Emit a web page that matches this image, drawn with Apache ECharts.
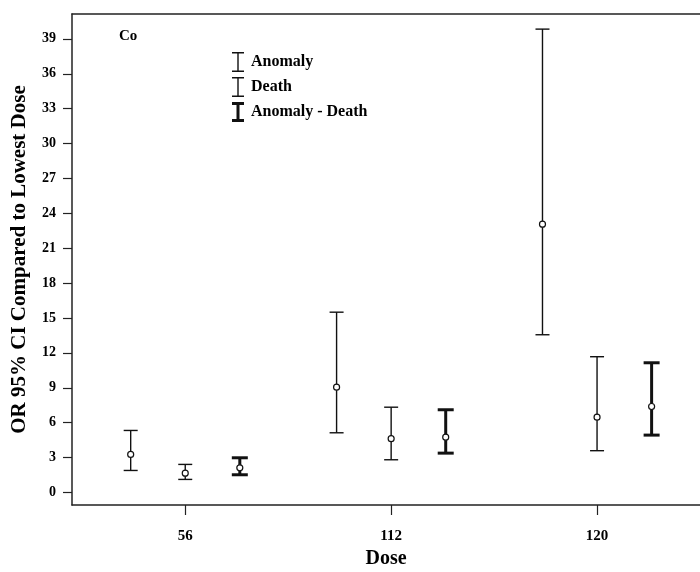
<!DOCTYPE html>
<html>
<head>
<meta charset="utf-8">
<script src="https://cdn.jsdelivr.net/npm/echarts@6/dist/echarts.min.js"></script>
<style>html,body{margin:0;padding:0;background:#fff}#c{width:700px;height:572px}</style>
</head>
<body>
<div id="c"></div>
<script>
const categories = ['56', '112', '120'];
const yTicks = [0, 3, 6, 9, 12, 15, 18, 21, 24, 27, 30, 33, 36, 39];

const anomalyLow  = [1.89, 5.13, 13.56];
const anomalyMid  = [3.27, 9.05, 23.07];
const anomalyHigh = [5.33, 15.5, 39.84];

const deathLow  = [1.12, 2.81, 3.59];
const deathMid  = [1.66, 4.62, 6.47];
const deathHigh = [2.41, 7.33, 11.67];

const adLow  = [1.52, 3.38, 4.93];
const adMid  = [2.12, 4.75, 7.39];
const adHigh = [2.98, 7.11, 11.15];

const FONT = 'Liberation Serif';
const SHIFT = 0.265;

function build(low, mid, high, offset) {
  return categories.map((c, i) => [i + 1 + offset, low[i], mid[i], high[i]]);
}

function makeRender(lw, capHalf) {
  return function (params, api) {
    const x = api.value(0);
    const pLow = api.coord([x, api.value(1)]);
    const pMid = api.coord([x, api.value(2)]);
    const pHigh = api.coord([x, api.value(3)]);
    const st = { stroke: '#111', lineWidth: lw, fill: null };
    return {
      type: 'group',
      children: [
        { type: 'line', shape: { x1: pLow[0], y1: pLow[1], x2: pHigh[0], y2: pHigh[1] }, style: st },
        { type: 'line', shape: { x1: pHigh[0] - capHalf, y1: pHigh[1], x2: pHigh[0] + capHalf, y2: pHigh[1] }, style: st },
        { type: 'line', shape: { x1: pLow[0] - capHalf, y1: pLow[1], x2: pLow[0] + capHalf, y2: pLow[1] }, style: st },
        { type: 'circle', shape: { cx: pMid[0], cy: pMid[1], r: 3 }, style: { fill: '#fff', stroke: '#111', lineWidth: 1.2 } }
      ]
    };
  };
}

const thinIcon = 'path://M0,0 H12 V1.6 H6.7 V18.4 H12 V20 H0 V18.4 H5.3 V1.6 H0 Z';
const thickIcon = 'path://M0,0 H12 V3 H7.5 V17 H12 V20 H0 V17 H4.5 V3 H0 Z';

const axisLineStyle = { color: '#222', width: 1.5 };

const chart = echarts.init(document.getElementById('c'), null, { renderer: 'canvas' });
chart.setOption({
  animation: false,
  backgroundColor: '#fff',
  title: {
    text: 'Co', left: 114, top: 24,
    textStyle: { fontFamily: FONT, fontWeight: 'bold', fontSize: 15, color: '#000' }
  },
  legend: {
    orient: 'vertical', left: 227, top: 47,
    itemWidth: 16, itemHeight: 20, itemGap: 5,
    textStyle: { fontFamily: FONT, fontWeight: 'bold', fontSize: 16, color: '#000' },
    data: [
      { name: 'Anomaly', icon: thinIcon },
      { name: 'Death', icon: thinIcon },
      { name: 'Anomaly - Death', icon: thickIcon }
    ]
  },
  grid: {
    left: 72, top: 14, bottom: 67, right: 0,
    show: false, containLabel: false, outerBoundsMode: 'none'
  },
  xAxis: [
    {
      type: 'value', min: 0.45, max: 3.5, position: 'bottom',
      name: 'Dose', nameLocation: 'middle', nameGap: 34,
      nameTextStyle: { fontFamily: FONT, fontWeight: 'bold', fontSize: 20, color: '#000' },
      axisLine: { show: true, onZero: false, lineStyle: axisLineStyle },
      axisTick: { show: true, length: 10, customValues: [1, 2, 3], lineStyle: { color: '#222', width: 1.2 } },
      axisLabel: {
        customValues: [1, 2, 3], margin: 24,
        fontFamily: FONT, fontWeight: 'bold', fontSize: 15, color: '#000',
        formatter: v => categories[Math.round(v) - 1] || ''
      },
      splitLine: { show: false }
    },
    {
      type: 'value', min: 0.45, max: 3.5, position: 'top',
      axisLine: { show: true, onZero: false, lineStyle: axisLineStyle },
      axisTick: { show: false }, axisLabel: { show: false }, splitLine: { show: false }
    }
  ],
  yAxis: {
    type: 'value', min: -1.08, max: 41.14,
    name: 'OR 95% CI Compared to Lowest Dose', nameLocation: 'middle', nameGap: 42,
    nameTextStyle: { fontFamily: FONT, fontWeight: 'bold', fontSize: 21, color: '#000' },
    axisLine: { show: true, onZero: false, lineStyle: axisLineStyle },
    axisTick: { show: true, length: 9, customValues: yTicks, lineStyle: { color: '#222', width: 1.2 } },
    axisLabel: {
      customValues: yTicks, margin: 16,
      fontFamily: FONT, fontWeight: 'bold', fontSize: 14, color: '#000'
    },
    splitLine: { show: false }
  },
  series: [
    {
      name: 'Anomaly', type: 'custom', itemStyle: { color: '#111' },
      renderItem: makeRender(1.4, 7),
      encode: { x: 0, y: [1, 2, 3] },
      data: build(anomalyLow, anomalyMid, anomalyHigh, -SHIFT)
    },
    {
      name: 'Death', type: 'custom', itemStyle: { color: '#111' },
      renderItem: makeRender(1.4, 7),
      encode: { x: 0, y: [1, 2, 3] },
      data: build(deathLow, deathMid, deathHigh, 0)
    },
    {
      name: 'Anomaly - Death', type: 'custom', itemStyle: { color: '#111' },
      renderItem: makeRender(3, 8),
      encode: { x: 0, y: [1, 2, 3] },
      data: build(adLow, adMid, adHigh, SHIFT)
    }
  ]
});
</script>
</body>
</html>
